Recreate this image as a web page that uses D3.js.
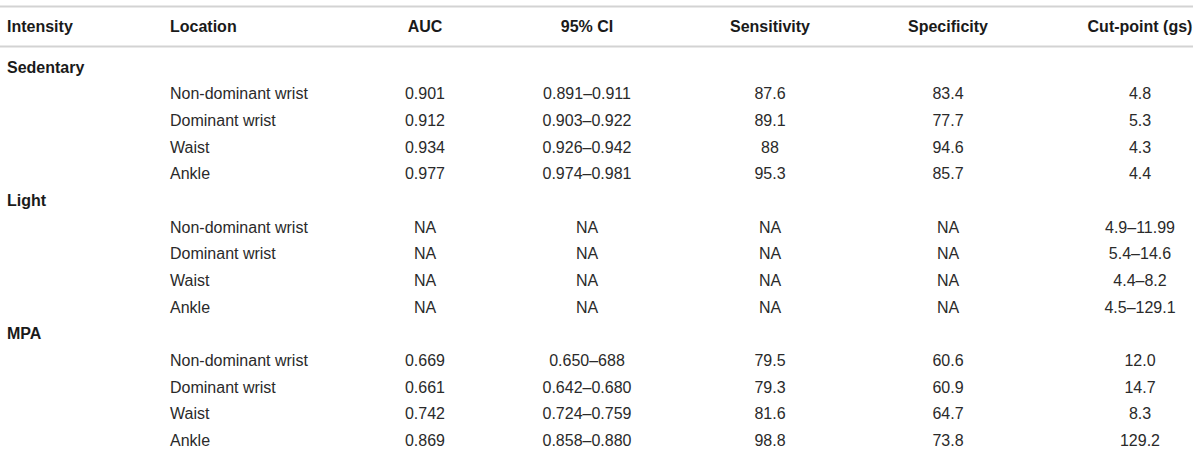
<!DOCTYPE html>
<html>
<head>
<meta charset="utf-8">
<script src="https://cdn.jsdelivr.net/npm/d3@7"></script>
<style>
  body { margin: 0; background: #fff; }
  svg text { font-family: "Liberation Sans", Arial, Helvetica, sans-serif; font-size: 16px; fill: #222; }
</style>
</head>
<body>
<div id="chart"></div>
<script>
const width = 1200;
const height = 452;

const columns = ["Intensity", "Location", "AUC", "95% CI", "Sensitivity", "Specificity", "Cut-point (gs)"];
const intensities = ["Sedentary", "Light", "MPA"];
const locations = ["Non-dominant wrist", "Dominant wrist", "Waist", "Ankle"];

const auc = [
  ["0.901", "0.912", "0.934", "0.977"],
  ["NA", "NA", "NA", "NA"],
  ["0.669", "0.661", "0.742", "0.869"]
];
const ci = [
  ["0.891–0.911", "0.903–0.922", "0.926–0.942", "0.974–0.981"],
  ["NA", "NA", "NA", "NA"],
  ["0.650–688", "0.642–0.680", "0.724–0.759", "0.858–0.880"]
];
const sensitivity = [
  ["87.6", "89.1", "88", "95.3"],
  ["NA", "NA", "NA", "NA"],
  ["79.5", "79.3", "81.6", "98.8"]
];
const specificity = [
  ["83.4", "77.7", "94.6", "85.7"],
  ["NA", "NA", "NA", "NA"],
  ["60.6", "60.9", "64.7", "73.8"]
];
const cutpoint = [
  ["4.8", "5.3", "4.3", "4.4"],
  ["4.9–11.99", "5.4–14.6", "4.4–8.2", "4.5–129.1"],
  ["12.0", "14.7", "8.3", "129.2"]
];

// flatten into table rows: a group header row, then one row per location
const rows = [];
intensities.forEach((name, g) => {
  rows.push({ group: true, cells: [name] });
  locations.forEach((loc, i) => {
    rows.push({
      group: false,
      cells: ["", loc, auc[g][i], ci[g][i], sensitivity[g][i], specificity[g][i], cutpoint[g][i]]
    });
  });
});

const x = d3.scaleOrdinal().domain(columns).range([7, 170, 425, 587, 770, 948, 1140]);
const anchor = d3.scaleOrdinal().domain(columns)
  .range(["start", "start", "middle", "middle", "middle", "middle", "middle"]);

// baseline of each body row
const y = d3.scaleLinear().domain([0, rows.length - 1]).range([72.7, 446]);
const headerY = 32;

const svg = d3
  .select("#chart")
  .append("svg")
  .attr("width", width)
  .attr("height", height);

svg.append("rect").attr("width", width).attr("height", height).attr("fill", "#fff");

// rules
svg
  .selectAll(".rule")
  .data([6.5, 46.5])
  .join("line")
  .classed("rule", true)
  .attr("x1", 0)
  .attr("x2", 1193)
  .attr("y1", (d) => d)
  .attr("y2", (d) => d)
  .attr("stroke", "#d3d3d3")
  .attr("stroke-width", 2);

// header
svg
  .selectAll(".head")
  .data(columns)
  .join("text")
  .classed("head", true)
  .attr("x", (d) => x(d))
  .attr("y", headerY)
  .style("text-anchor", (d) => anchor(d))
  .style("font-weight", "bold")
  .style("fill", "#1a1a1a")
  .text((d) => d);

// body
const row = svg
  .selectAll(".row")
  .data(rows)
  .join("g")
  .classed("row", true)
  .attr("transform", (d, i) => `translate(0,${y(i)})`);

row
  .selectAll("text")
  .data((d) => d.cells.map((v, c) => ({ v, col: columns[c], group: d.group })))
  .join("text")
  .attr("x", (d) => x(d.col))
  .style("text-anchor", (d) => anchor(d.col))
  .style("font-weight", (d) => (d.group ? "bold" : "normal"))
  .style("fill", (d) => (d.group ? "#1a1a1a" : "#2a2a2a"))
  .text((d) => d.v);
</script>
</body>
</html>
